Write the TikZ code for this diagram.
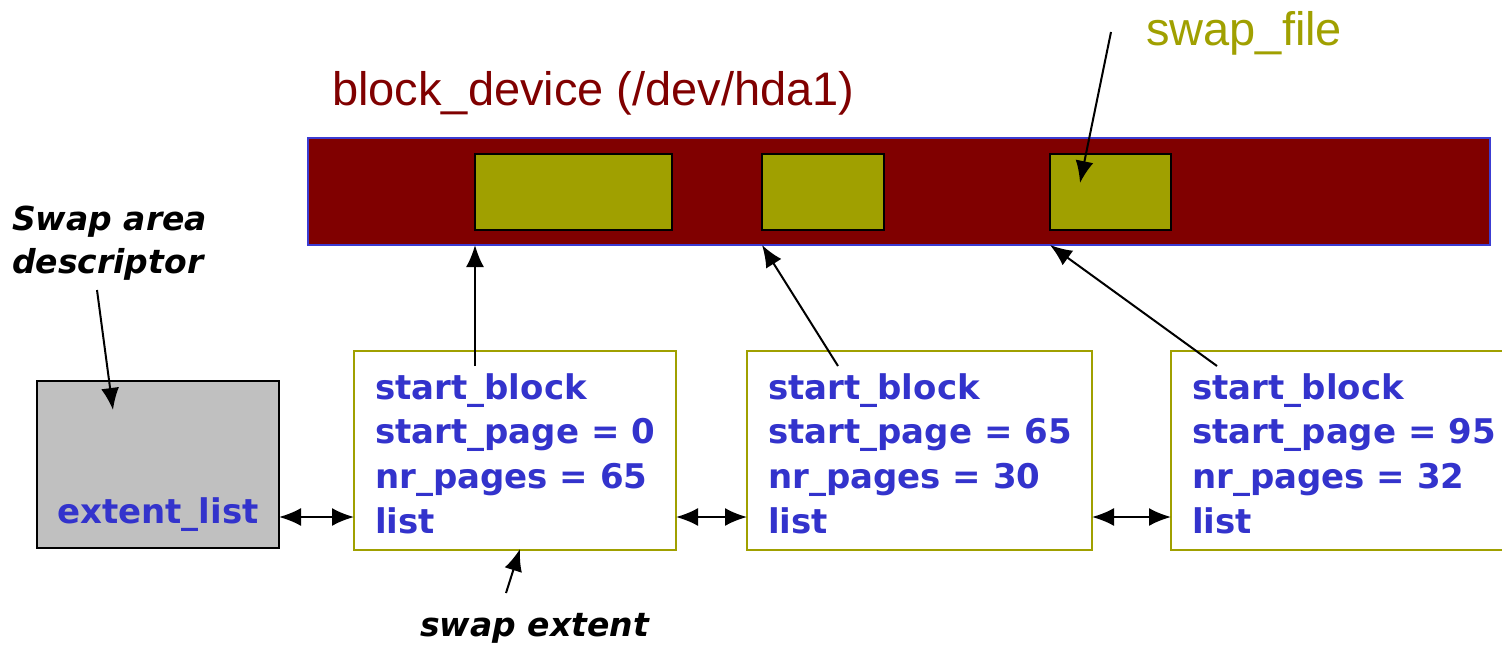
\documentclass[tikz,border=0pt]{standalone}
\usepackage{fontspec}
\setmainfont{Liberation Sans}
\newfontfamily\vfont{DejaVu Sans}[BoldFont={DejaVu Sans Bold},BoldItalicFont={DejaVu Sans Bold Oblique}]
\usetikzlibrary{arrows.meta,calc}

\definecolor{devred}{RGB}{128,0,0}
\definecolor{fileolive}{RGB}{160,160,0}
\definecolor{fieldblue}{RGB}{51,51,204}
\definecolor{barblue}{RGB}{60,60,210}
\definecolor{descgray}{RGB}{192,192,192}

\begin{document}
\begin{tikzpicture}[x=1pt,y=-1pt,
  >={Latex[length=22pt,width=18pt]},
  ptr/.style={line width=2pt,->},
  link/.style={line width=2pt,<->},
  box/.style={rectangle,inner sep=0pt,outer sep=0pt},
  devbar/.style={box,fill=devred,draw=barblue,line width=2pt},
  filepart/.style={box,fill=fileolive,draw=black,line width=2pt},
  extbox/.style={box,fill=white,draw=fileolive,line width=2.5pt},
  descbox/.style={box,fill=descgray,draw=black,line width=2pt},
  field/.style={inner sep=0pt,anchor=base west,text=fieldblue,
    font=\vfont\bfseries\fontsize{34}{44.7}\selectfont},
  note/.style={inner sep=0pt,anchor=base west,
    font=\vfont\bfseries\itshape\fontsize{33}{43}\selectfont},
  title/.style={inner sep=0pt,anchor=base west,font=\fontsize{47}{56}\selectfont}]

\useasboundingbox (0,0) rectangle (1502,648);

% block device with the three pieces of the swap file
\node[devbar,minimum width=1182pt,minimum height=107pt] (dev) at (899,191.5) {};
\node[filepart,minimum width=197pt,minimum height=76pt] (sf1) at (573.5,192) {};
\node[filepart,minimum width=122pt,minimum height=76pt] (sf2) at (823,192) {};
\node[filepart,minimum width=121pt,minimum height=76pt] (sf3) at (1110.5,192) {};

\node[title,text=devred] (devlabel) at (332,105) {block\_device (/dev/hda1)};
\node[title,text=fileolive] (filelabel) at (1146,45) {swap\_file};

% swap area descriptor
\node[descbox,minimum width=242pt,minimum height=167pt] (desc) at (158,464.5) {};
\node[field] (desclist) at (57,523) {extent\_list};
\node[note] (desclabel) at (12,230) {\vtop{\hbox{Swap area}\hbox{descriptor}}};

% swap extents
\node[extbox,minimum width=322pt,minimum height=199pt] (ext1) at (515,450.5) {};
\node[extbox,minimum width=345pt,minimum height=199pt] (ext2) at (919.5,450.5) {};
\node[extbox,minimum width=349pt,minimum height=199pt] (ext3) at (1345.5,450.5) {};

\node[field] (f1) at (375,399) {\vtop{\hbox{start\_block}\hbox{start\_page = 0}\hbox{nr\_pages = 65}\hbox{list}}};
\node[field] (f2) at (768,399) {\vtop{\hbox{start\_block}\hbox{start\_page = 65}\hbox{nr\_pages = 30}\hbox{list}}};
\node[field] (f3) at (1192,399) {\vtop{\hbox{start\_block}\hbox{start\_page = 95}\hbox{nr\_pages = 32}\hbox{list}}};

\node[note] (extlabel) at (420,636) {swap extent};

% list links
\coordinate (listrow) at (0,517);
\draw[link] (desc.east |- listrow) -- (ext1.west |- listrow);
\draw[link] (ext1.east |- listrow) -- (ext2.west |- listrow);
\draw[link] (ext2.east |- listrow) -- (ext3.west |- listrow);

% start_block pointers into the device
\coordinate (sb1) at (475,366);
\coordinate (sb2) at (838,366);
\coordinate (sb3) at (1217,366);
\draw[ptr] (sb1) -- (sf1.west |- dev.south);
\draw[ptr] (sb2) -- (sf2.west |- dev.south);
\draw[ptr] (sb3) -- (sf3.west |- dev.south);

% label pointers
\coordinate (descTail) at (97,290);
\coordinate (descTip) at (113,410);
\draw[ptr] (descTail) -- (descTip);
\coordinate (fileTail) at (1111,32);
\coordinate (fileTip) at (1080,183);
\draw[ptr] (fileTail) -- (fileTip);
\coordinate (extTail) at (506,593);
\coordinate (extTip) at (520,549);
\draw[ptr] (extTail) -- (extTip);
\end{tikzpicture}
\end{document}
